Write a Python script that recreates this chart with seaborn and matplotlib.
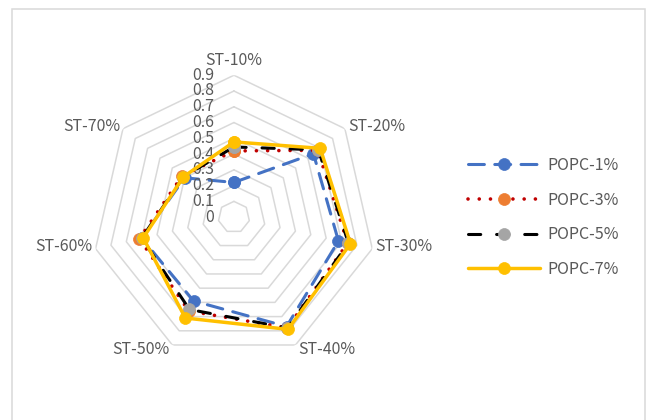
import numpy as np
import pandas as pd
import matplotlib
matplotlib.use("Agg")
import matplotlib.pyplot as plt
import matplotlib.transforms as mtransforms
from matplotlib.patches import Rectangle
import seaborn as sns

# Radar axes and values
categories = ["ST-10%", "ST-20%", "ST-30%", "ST-40%", "ST-50%", "ST-60%", "ST-70%"]
series_names = ["POPC-1%", "POPC-3%", "POPC-5%", "POPC-7%"]
popc_1 = [0.22, 0.645, 0.68, 0.77, 0.59, 0.60, 0.40]
popc_3 = [0.42, 0.68, 0.74, 0.78, 0.66, 0.615, 0.42]
popc_5 = [0.445, 0.685, 0.745, 0.78, 0.65, 0.60, 0.41]
popc_7 = [0.477, 0.70, 0.758, 0.79, 0.71, 0.59, 0.41]
r_ticks = [0, 0.1, 0.2, 0.3, 0.4, 0.5, 0.6, 0.7, 0.8, 0.9]
r_tick_labels = ["0", "0.1", "0.2", "0.3", "0.4", "0.5", "0.6", "0.7", "0.8", "0.9"]

sns.set_theme(style="white")
plt.rcParams["font.family"] = ["Noto Sans CJK SC", "DejaVu Sans"]

TEXT = "#595959"
GRID = "#D9D9D9"
FS = 11.5
FW = "light"

fig = plt.figure(figsize=(6.48, 4.2), dpi=100)
fig.patch.set_facecolor("white")
# chart-area border
fig.patches.append(Rectangle((11.5 / 648, -0.1), (645 - 11.5) / 648, 1.1 - 9.5 / 420,
                             transform=fig.transFigure, fill=False,
                             edgecolor=GRID, lw=1.1, zorder=0))

ax = fig.add_axes([0.142, 0.145, 0.438, 0.676], projection="polar")
ax.set_theta_zero_location("N")
ax.set_theta_direction(-1)
ax.grid(False)
ax.spines["polar"].set_visible(False)
ax.set_facecolor("none")

n = len(categories)
angles = np.arange(n) * 2 * np.pi / n
theta_closed = np.append(angles, 2 * np.pi)

# heptagonal rings
for lvl in r_ticks[1:]:
    ax.plot(theta_closed, [lvl] * (n + 1), color=GRID, lw=1.1, zorder=0.5)

styles = {
    "POPC-1%": dict(color="#4472C4", mfc="#4472C4", ls=(0, (5.2, 3.4)), lw=2.2),
    "POPC-3%": dict(color="#C00000", mfc="#ED7D31", ls=(0, (0.01, 3.1)), lw=2.6),
    "POPC-5%": dict(color="#000000", mfc="#A5A5A5", ls=(0, (4.0, 5.2)), lw=2.2),
    "POPC-7%": dict(color="#FFC000", mfc="#FFC000", ls="-", lw=2.5),
}
values = {"POPC-1%": popc_1, "POPC-3%": popc_3, "POPC-5%": popc_5, "POPC-7%": popc_7}

handles = []
for i, name in enumerate(series_names):
    vals = values[name]
    df = pd.DataFrame({"theta": theta_closed, "r": vals + [vals[0]]})
    st = styles[name]
    before = len(ax.lines)
    sns.lineplot(data=df, x="theta", y="r", ax=ax, sort=False, estimator=None,
                 color=st["color"], linestyle=st["ls"], lw=st["lw"],
                 dash_capstyle="round", solid_capstyle="round",
                 marker="o", markersize=8.6, markerfacecolor=st["mfc"],
                 markeredgecolor=st["mfc"], markeredgewidth=0.5,
                 zorder=3 + i)
    handles.append(ax.lines[before])

ax.set_xlabel("")
ax.set_ylabel("")
ax.set_xticks([])
ax.set_yticks([])
ax.set_ylim(0, 0.9)

# radial value labels beside the top axis
off = mtransforms.ScaledTranslation(-20 / 100, 0, fig.dpi_scale_trans)
for v, lab in zip(r_ticks, r_tick_labels):
    ax.text(0, v, lab, transform=ax.transData + off, ha="right", va="center",
            fontsize=FS, fontweight=FW, color=TEXT)

# category labels around the outer ring
for ang, lab in zip(angles, categories):
    s, c = np.sin(ang), np.cos(ang)
    if abs(s) < 0.1:
        ha, va, dx, dy = "center", "bottom", 0, 6
    else:
        ha = "left" if s > 0 else "right"
        va = "center"
        dx = 3 * np.sign(s)
        dy = 2 if c > -0.5 else -5
    t = ax.transData + mtransforms.ScaledTranslation(dx / 100, dy / 100, fig.dpi_scale_trans)
    ax.text(ang, 0.9, lab, transform=t, ha=ha, va=va, fontsize=FS, fontweight=FW,
            color=TEXT)

leg = fig.legend(handles=handles, labels=series_names, loc="upper left",
                 bbox_to_anchor=(468 / 648, 1 - 157 / 420), frameon=False,
                 handlelength=4.5, handletextpad=0.45, labelspacing=1.1,
                 borderpad=0, borderaxespad=0, numpoints=1,
                 prop={"size": FS, "weight": FW}, labelcolor=TEXT)

fig.savefig("out.png", dpi=100)
